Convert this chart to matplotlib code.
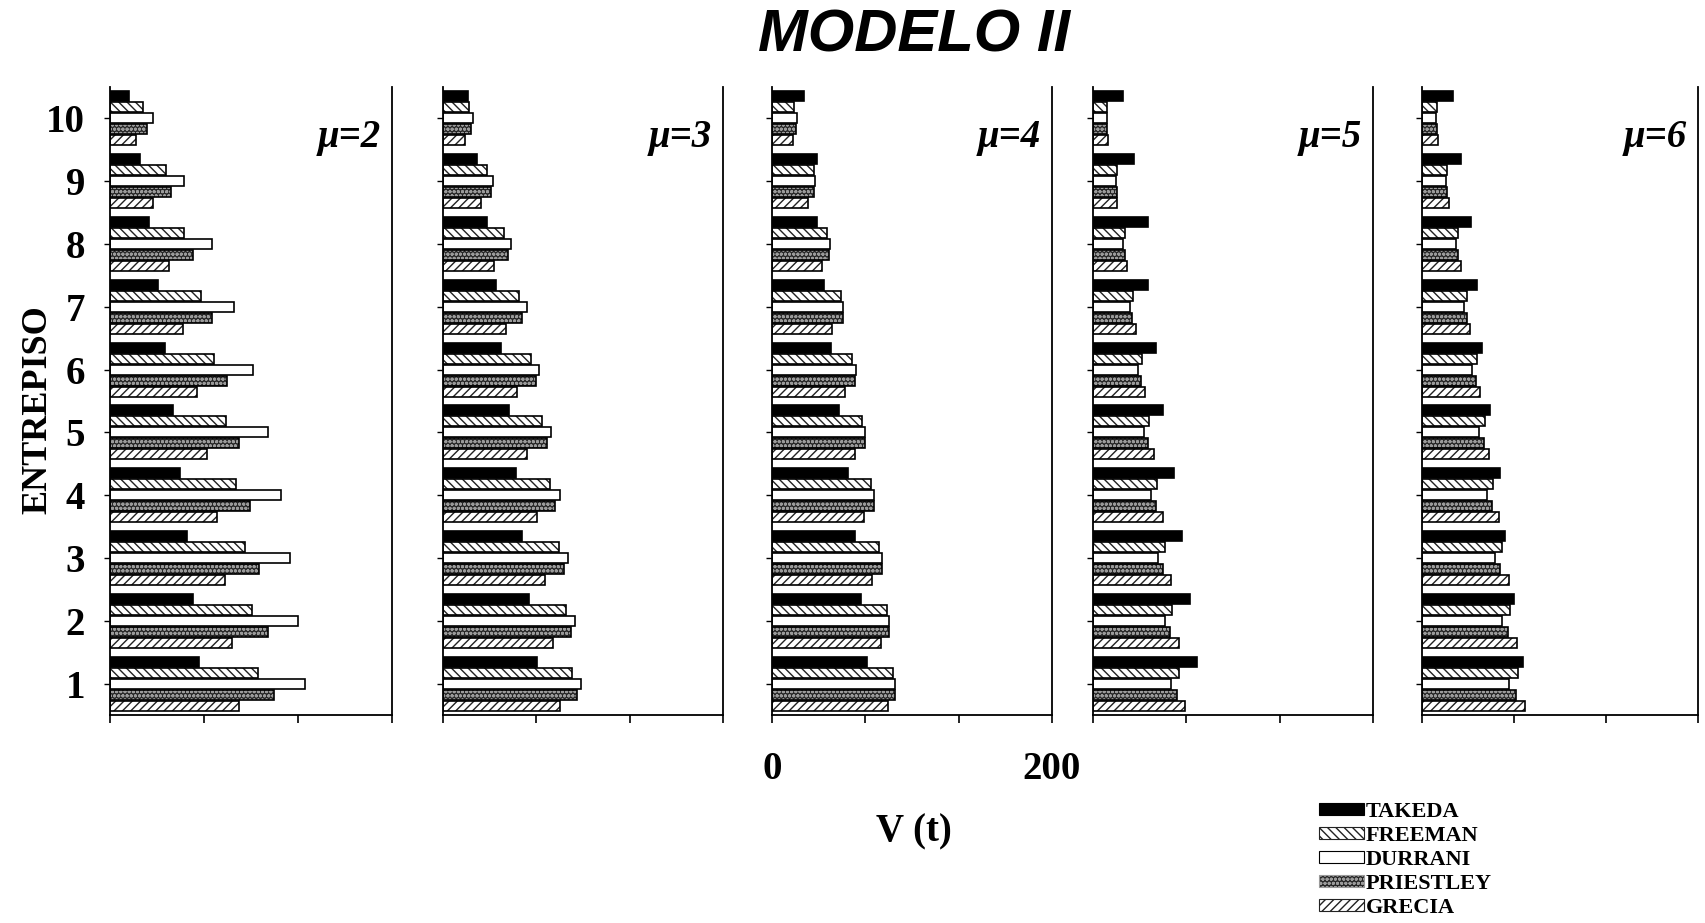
import numpy as np
import matplotlib.pyplot as plt
from matplotlib.patches import Patch

# Cortante de entrepiso V (t) por método, para cada ductilidad
pisos = np.arange(1, 11)
ductilidades = [2, 3, 4, 5, 6]
metodos = ['TAKEDA', 'FREEMAN', 'DURRANI', 'PRIESTLEY', 'GRECIA']

# valores de entrepiso 1 a 10
takeda = {
    2: [63, 59, 54.4, 49.6, 44.7, 39, 34, 27.7, 21, 13.5],
    3: [67, 61.4, 56.4, 52, 47, 41.4, 37.9, 31.4, 24, 17.9],
    4: [67.6, 63.6, 59, 54.3, 47.9, 42, 37, 32.4, 32, 22.9],
    5: [74.3, 69.3, 63.6, 57.9, 49.8, 44.8, 39.3, 39, 29.3, 21.4],
    6: [73, 66.7, 60.1, 56.5, 49.3, 43.5, 39.6, 35.5, 28, 22.5],
}
freeman = {
    2: [105, 100.7, 95.7, 89.4, 82, 73.8, 64.5, 52.5, 40, 23.4],
    3: [92, 87.9, 82.9, 76.4, 70.7, 62.9, 54.3, 43.6, 31.4, 18.6],
    4: [86.7, 82, 76.4, 70.7, 64, 57, 49.3, 39.3, 30, 15.7],
    5: [61.4, 56.4, 51.4, 45.7, 40, 35, 28.6, 22.9, 17, 10],
    6: [69.6, 63.8, 58, 51.4, 45.7, 39.9, 32.6, 26, 18, 10.9],
}
durrani = {
    2: [138, 133.3, 127.7, 121, 112, 101.6, 88, 72, 52.5, 30.5],
    3: [98.6, 94.3, 89.3, 83.6, 77, 68.6, 60, 48.6, 35.7, 21.4],
    4: [87.6, 83.6, 78.3, 72.9, 66.4, 60, 50.7, 41.4, 30.7, 17.9],
    5: [55.5, 51.4, 46.7, 41.4, 36.4, 32, 26.4, 21.4, 16.4, 10],
    6: [63, 58, 52.9, 47.1, 41.3, 36.2, 30.4, 24.6, 17.4, 10],
}
priestley = {
    2: [116, 112, 105.7, 99, 91.5, 83, 72, 58.6, 43, 26],
    3: [95.7, 91.4, 86.4, 80, 74.3, 66.4, 56.4, 46.4, 34, 20],
    4: [87.6, 83.6, 78.3, 72.9, 66.4, 59, 50.7, 40.9, 30, 17],
    5: [60, 55.3, 49.8, 45, 39.3, 34.5, 28, 22.9, 17, 10],
    6: [68.1, 62.3, 56.5, 50.7, 44.9, 39, 32.6, 26, 18, 10.9],
}
grecia = {
    2: [91.5, 86.5, 81.6, 75.9, 68.8, 61.7, 52, 42, 30.5, 18.4],
    3: [83.6, 78.6, 72.9, 67.1, 60, 52.9, 45, 36.4, 27, 15.7],
    4: [83, 77.6, 71.4, 65.7, 59, 52, 43, 35.7, 25.7, 15],
    5: [66, 61.4, 55.5, 49.8, 43.6, 37.4, 30.5, 24.3, 17.4, 10.5],
    6: [74.6, 68.8, 63, 55.8, 48.6, 42, 34.8, 28, 19.6, 11.6],
}
series = [takeda, freeman, durrani, priestley, grecia]

# estilo de cada serie: relleno, trama, color de trama
estilos = [
    dict(fc='black', hatch=None, hc='black'),
    dict(fc='white', hatch='\\\\\\\\', hc='#222222'),
    dict(fc='white', hatch=None, hc='black'),
    dict(fc='#262626', hatch='oooo', hc='#9a9a9a'),
    dict(fc='white', hatch='////', hc='#222222'),
]

fig = plt.figure(figsize=(17.06, 9.23), dpi=100)
plt.rcParams['hatch.linewidth'] = 1.0

W, H = 1706, 923
izq = [110, 443, 772, 1093, 1422]
der = [392, 723, 1052, 1373, 1698]
arriba, abajo = 87, 715

d = 0.175
alto = 0.16

for k, mu in enumerate(ductilidades):
    ax = fig.add_axes([izq[k] / W, 1 - abajo / H, (der[k] - izq[k]) / W, (abajo - arriba) / H])
    for j, (s, est) in enumerate(zip(series, estilos)):
        y = pisos + (2 - j) * d
        v = s[mu]
        ax.barh(y, v, height=alto, color=est['fc'], edgecolor=est['hc'],
                hatch=est['hatch'], linewidth=0)
        ax.barh(y, v, height=alto, fill=False, edgecolor='black', linewidth=1.2)
    ax.set_xlim(0, 200)
    ax.set_ylim(0.5, 10.5)
    ax.spines['top'].set_visible(False)
    for sp in ['left', 'right', 'bottom']:
        ax.spines[sp].set_linewidth(1.3)
    ax.set_xticks(np.linspace(0, 200, 4))
    ax.tick_params(axis='x', direction='out', length=6, width=1.2)
    ax.set_yticks(pisos)
    ax.tick_params(axis='y', direction='out', length=4, width=1)
    if k == 0:
        ax.set_yticklabels([str(p) for p in pisos], fontsize=28,
                           fontfamily='Liberation Serif', fontweight='bold')
        ax.tick_params(axis='y', pad=14)
    else:
        ax.set_yticklabels([])
    if k == 2:
        ax.set_xticklabels(['0', '', '', '200'], fontsize=28,
                           fontfamily='Liberation Serif', fontweight='bold')
        ax.tick_params(axis='x', pad=20)
    else:
        ax.set_xticklabels([])
    ax.text(0.96, 0.92, 'μ=' + str(mu), transform=ax.transAxes,
            ha='right', va='center', fontsize=28, fontfamily='Liberation Serif',
            fontweight='bold', fontstyle='italic')

fig.text(914 / W, 1 - 36 / H, 'MODELO II', ha='center', va='center',
         fontsize=43, fontfamily='Liberation Sans', fontweight='bold', fontstyle='italic')
fig.text(38 / W, 1 - 410 / H, 'ENTREPISO', rotation=90, ha='center', va='center',
         fontsize=26, fontfamily='Liberation Serif', fontweight='bold')
fig.text(914 / W, 1 - 832 / H, 'V (t)', ha='center', va='center',
         fontsize=28, fontfamily='Liberation Serif', fontweight='bold')

# leyenda
manijas = [Patch(facecolor=e['fc'], edgecolor=e['hc'], hatch=e['hatch'], linewidth=0.8)
           for e in estilos]
fig.legend(manijas, metodos, loc='upper left', bbox_to_anchor=(1306 / W, 1 - 789 / H),
           frameon=False, handlelength=2.0, handleheight=0.45, handletextpad=0.1,
           labelspacing=0.18, borderpad=0.1,
           prop=dict(family='Liberation Serif', weight='bold', size=16))

fig.savefig('out.png', dpi=100)
